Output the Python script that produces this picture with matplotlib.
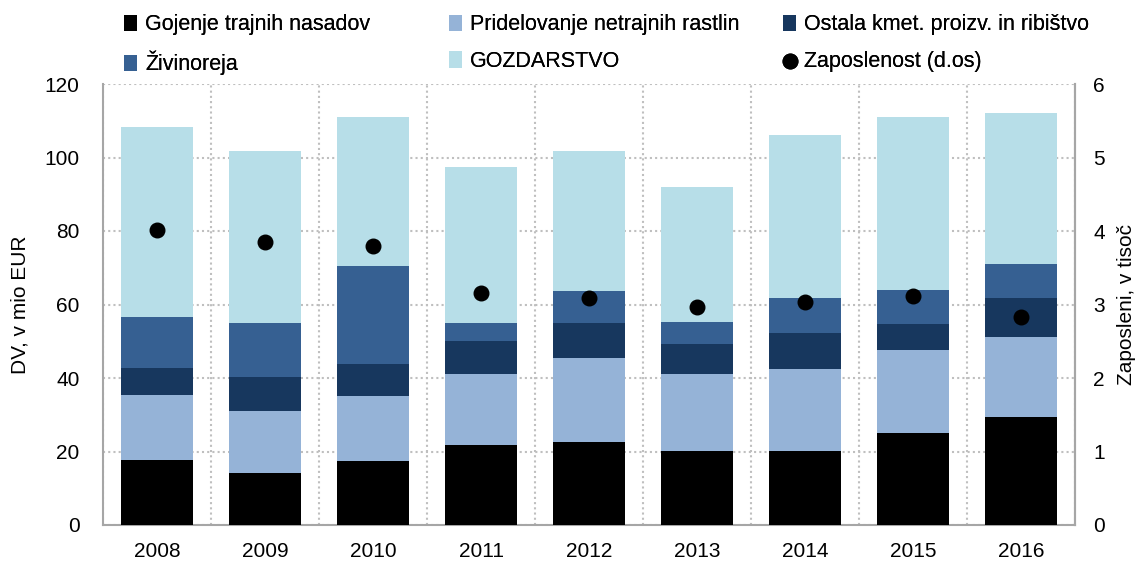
import matplotlib.pyplot as plt
import numpy as np

plt.rcParams['font.family'] = ['Liberation Sans', 'DejaVu Sans']

# Data
years = ['2008', '2009', '2010', '2011', '2012', '2013', '2014', '2015', '2016']
gojenje = [17.7, 14.1, 17.4, 21.7, 22.6, 20.1, 20.1, 25.0, 29.3]
pridelovanje = [17.6, 16.9, 17.7, 19.3, 22.8, 20.9, 22.3, 22.6, 21.8]
ostala = [7.4, 9.2, 8.7, 9.0, 9.5, 8.2, 9.8, 7.0, 10.6]
zivinoreja = [13.8, 14.7, 26.6, 4.9, 8.7, 6.0, 9.5, 9.3, 9.2]
gozdarstvo = [51.9, 47.0, 40.5, 42.4, 38.3, 36.9, 44.3, 47.2, 41.1]
zaposlenost = [4.02, 3.85, 3.79, 3.15, 3.09, 2.96, 3.04, 3.11, 2.83]

series = [
    ('Gojenje trajnih nasadov', gojenje, '#000000'),
    ('Pridelovanje netrajnih rastlin', pridelovanje, '#95B3D7'),
    ('Ostala kmet. proizv. in ribištvo', ostala, '#17375E'),
    ('Živinoreja', zivinoreja, '#366092'),
    ('GOZDARSTVO', gozdarstvo, '#B7DEE8'),
]

W, H = 1142, 567
fig = plt.figure(figsize=(W / 100, H / 100), dpi=100)
ax = fig.add_axes([103 / W, 1 - 525 / H, (1075 - 103) / W, (525 - 84) / H])
ax2 = ax.twinx()

x = np.arange(len(years))
bottom = np.zeros(len(years))
handles = {}
for name, vals, col in series:
    b = ax.bar(x, vals, bottom=bottom, width=0.667, color=col, label=name, zorder=3)
    handles[name] = b
    bottom += np.array(vals)

pts = ax2.scatter(x, zaposlenost, s=110, color='black', zorder=5, label='Zaposlenost (d.os)')

ax.set_xlim(-0.5, len(years) - 0.5)
ax.set_ylim(0, 120)
ax.set_yticks(range(0, 121, 20))
ax2.set_ylim(0, 6)
ax2.set_yticks(range(0, 7))
ax.set_xticks(x)
ax.set_xticklabels(years)
ax.set_xticks(np.arange(-0.5, len(years), 1), minor=True)

# dotted grid
ax.grid(axis='y', which='major', linestyle=(0, (1, 1.5)), color='#BFBFBF', linewidth=1.5, zorder=0)
ax.grid(axis='x', which='minor', linestyle=(0, (1, 1.5)), color='#BFBFBF', linewidth=1.5, zorder=0)
ax.set_axisbelow(True)

for a in (ax, ax2):
    a.spines['top'].set_visible(False)
    for s in ('left', 'right', 'bottom'):
        a.spines[s].set_color('#A6A6A6')
        a.spines[s].set_linewidth(1.5)
    a.tick_params(length=0, labelsize=15)
ax.tick_params(axis='y', pad=17)
ax.tick_params(axis='x', pad=12)
ax2.tick_params(axis='y', pad=13)
ax.tick_params(axis='x', which='minor', length=0)
ax2.spines['left'].set_visible(False)
ax2.spines['bottom'].set_visible(False)

ax.yaxis.set_label_coords(-0.076, 0.5)
ax.set_ylabel('DV, v mio EUR', fontsize=15)
ax2.yaxis.set_label_coords(1.043, 0.5)
ax2.set_ylabel('Zaposleni, v tisoč', fontsize=15)

# legend: three columns placed like the original
cols = [
    (118, ['Gojenje trajnih nasadov', 'Živinoreja']),
    (443, ['Pridelovanje netrajnih rastlin', 'GOZDARSTVO']),
    (777, ['Ostala kmet. proizv. in ribištvo', None]),
]
for xpos, names in cols:
    hh = [handles[n] if n else pts for n in names]
    ll = [n if n else 'Zaposlenost (d.os)' for n in names]
    leg = fig.legend(hh, ll, loc='upper left', bbox_to_anchor=(xpos / W, 1 - 8 / H),
                     frameon=False, fontsize=15.5, handlelength=0.6, handleheight=0.8,
                     handletextpad=0.35, labelspacing=0.72, borderpad=0.3,
                     borderaxespad=0.0)
    fig.add_artist(leg)

fig.savefig('out.png', dpi=100)
